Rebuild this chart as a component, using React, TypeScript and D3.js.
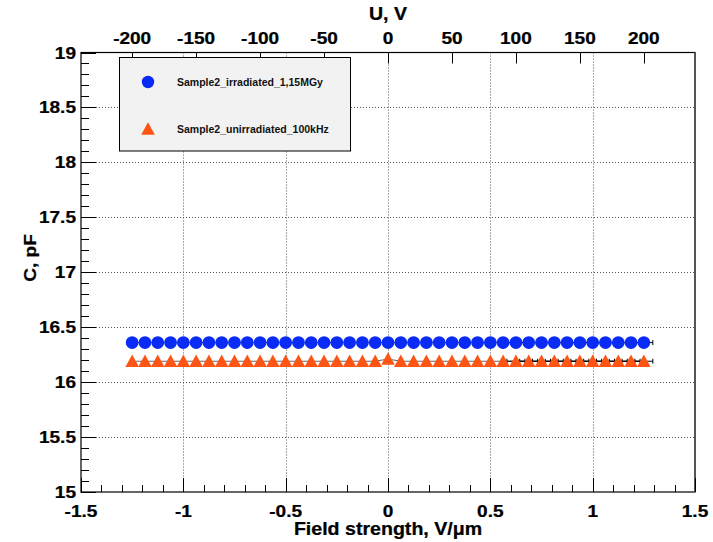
import React from "react";
import * as d3 from "d3";

// Data
const fieldE: number[] = [
  -1.25, -1.1875, -1.125, -1.0625, -1, -0.9375, -0.875, -0.8125, -0.75, -0.6875,
  -0.625, -0.5625, -0.5, -0.4375, -0.375, -0.3125, -0.25, -0.1875, -0.125, -0.0625,
  0,
  0.0625, 0.125, 0.1875, 0.25, 0.3125, 0.375, 0.4375, 0.5, 0.5625, 0.625,
  0.6875, 0.75, 0.8125, 0.875, 0.9375, 1, 1.0625, 1.125, 1.1875, 1.25,
];
const capIrradiated: number[] = [
  16.36, 16.36, 16.36, 16.36, 16.36, 16.36, 16.36, 16.36, 16.36, 16.36,
  16.36, 16.36, 16.36, 16.36, 16.36, 16.36, 16.36, 16.36, 16.36, 16.36,
  16.36,
  16.36, 16.36, 16.36, 16.36, 16.36, 16.36, 16.36, 16.36, 16.36, 16.36,
  16.36, 16.36, 16.36, 16.36, 16.36, 16.36, 16.36, 16.36, 16.36, 16.36,
];
const capUnirradiated: number[] = [
  16.19, 16.19, 16.19, 16.19, 16.19, 16.19, 16.19, 16.19, 16.19, 16.19,
  16.19, 16.19, 16.19, 16.19, 16.19, 16.19, 16.19, 16.19, 16.19, 16.19,
  16.21,
  16.19, 16.19, 16.19, 16.19, 16.19, 16.19, 16.19, 16.19, 16.19, 16.19,
  16.19, 16.19, 16.19, 16.19, 16.19, 16.19, 16.19, 16.19, 16.19, 16.19,
];
const fieldErr: number[] = [
  0, 0, 0, 0, 0, 0, 0, 0, 0, 0,
  0, 0, 0, 0, 0, 0, 0, 0, 0, 0,
  0,
  0, 0, 0, 0, 0, 0, 0, 0, 0, 0.044,
  0.044, 0.044, 0.044, 0.044, 0.044, 0.044, 0.044, 0.044, 0.044, 0.044,
];
const seriesNames: string[] = ["Sample2_irradiated_1,15MGy", "Sample2_unirradiated_100kHz"];
const seriesColors: string[] = ["#0a2af5", "#ff5514"];

const xTicks: number[] = [-1.5, -1, -0.5, 0, 0.5, 1, 1.5];
const xTickLabels: string[] = ["-1.5", "-1", "-0.5", "0", "0.5", "1", "1.5"];
const yTicks: number[] = [15, 15.5, 16, 16.5, 17, 17.5, 18, 18.5, 19];
const yTickLabels: string[] = ["15", "15.5", "16", "16.5", "17", "17.5", "18", "18.5", "19"];
const uTicks: number[] = [-200, -150, -100, -50, 0, 50, 100, 150, 200];
const uTickLabels: string[] = ["-200", "-150", "-100", "-50", "0", "50", "100", "150", "200"];
const xTitle = "Field strength, V/\u03bcm";
const yTitle = "C, pF";
const uTitle = "U, V";

const W = 713, H = 542;
const L = 81, R = 695, T = 52.5, B = 492;
const FONT = "'Liberation Sans', Arial, Helvetica, sans-serif";
const SX = 1.12;

function Label(props: { x: number; y: number; text: string; anchor?: string; size?: number; rotate?: number }) {
  const { x, y, text, anchor = "middle", size = 17, rotate = 0 } = props;
  return (
    <text
      transform={`translate(${x},${y}) rotate(${rotate}) scale(${SX},1)`}
      textAnchor={anchor}
      fontFamily={FONT}
      fontWeight="bold"
      fontSize={size}
      fill="#000"
      stroke="#000"
      strokeWidth={0.25}
    >
      {text}
    </text>
  );
}

export default function App() {
  const x = d3.scaleLinear().domain([-1.5, 1.5]).range([L, R]);
  const u = d3.scaleLinear().domain([-240, 240]).range([L, R]);
  const y = d3.scaleLinear().domain([15, 19]).range([B, T]);

  const xMinor = d3.range(-15, 16).map((i) => i / 10);
  const yMinor = d3.range(150, 191).map((i) => i / 10);

  const line = d3
    .line<number>()
    .x((_, i) => x(fieldE[i]))
    .y((d) => y(d));

  const series = [capIrradiated, capUnirradiated];
  const tri = (cx: number, cy: number, s = 6.8) =>
    `M${cx},${cy - s} L${cx + s},${cy + s * 0.85} L${cx - s},${cy + s * 0.85} Z`;

  const gridX = xTicks.filter((t) => t > -1.5 && t < 1.5);
  const gridY = yTicks.filter((t) => t > 15 && t < 19);

  return (
    <svg width={W} height={H} style={{ position: "absolute", left: 0, top: 0, background: "#fff" }}>
      <rect x={0} y={0} width={W} height={H} fill="#fff" />
      {/* grid */}
      <g stroke="#555" strokeWidth={1} strokeDasharray="1,2">
        {gridX.map((t) => (
          <line key={"gx" + t} x1={Math.round(x(t)) + 0.5} x2={Math.round(x(t)) + 0.5} y1={T} y2={B} />
        ))}
        {gridY.map((t) => (
          <line key={"gy" + t} x1={L} x2={R} y1={Math.round(y(t)) + 0.5} y2={Math.round(y(t)) + 0.5} />
        ))}
      </g>
      {/* frame */}
      <rect x={L} y={T} width={R - L} height={B - T} fill="none" stroke="#000" strokeWidth={1.2} />
      <line x1={R} x2={R} y1={T} y2={B} stroke="#555" strokeWidth={2} />
      {/* ticks */}
      <g stroke="#000" strokeWidth={1}>
        {xMinor.map((t, i) => {
          const major = i % 5 === 0;
          const px = Math.round(x(t)) + 0.5;
          return <line key={"bx" + i} x1={px} x2={px} y1={B} y2={B - (major ? 14 : 7)} />;
        })}
        {yMinor.map((t, i) => {
          const major = i % 5 === 0;
          const py = Math.round(y(t)) + 0.5;
          return <line key={"ly" + i} x1={L} x2={L + (major ? 15 : 8)} y1={py} y2={py} />;
        })}
        {uTicks.map((t) => {
          const px = Math.round(u(t)) + 0.5;
          return <line key={"tu" + t} x1={px} x2={px} y1={T} y2={T + 11} />;
        })}
      </g>
      {/* tick labels */}
      {xTicks.map((t, i) => (
        <Label key={"xl" + t} x={x(t)} y={517} text={xTickLabels[i]} />
      ))}
      {yTicks.map((t, i) => (
        <Label key={"yl" + t} x={76} y={y(t) + 6} text={yTickLabels[i]} anchor="end" />
      ))}
      {uTicks.map((t, i) => (
        <Label key={"ul" + t} x={u(t)} y={44} text={uTickLabels[i]} />
      ))}
      <Label x={(L + R) / 2} y={535} text={xTitle} size={17.5} />
      <Label x={36} y={258} text={yTitle} rotate={-90} size={17} />
      <Label x={(L + R) / 2} y={20} text={uTitle} size={17.5} />

      {/* data */}
      {series.map((vals, s) => (
        <g key={"s" + s}>
          <path d={line(vals) || ""} fill="none" stroke="#666" strokeWidth={1} />
          <g stroke="#000" strokeWidth={1}>
            {vals.map((v, i) =>
              fieldErr[i] > 0 ? (
                <g key={"e" + i}>
                  <line x1={x(fieldE[i] - fieldErr[i])} x2={x(fieldE[i] + fieldErr[i])} y1={y(v)} y2={y(v)} />
                  <line x1={x(fieldE[i] - fieldErr[i])} x2={x(fieldE[i] - fieldErr[i])} y1={y(v) - 2.5} y2={y(v) + 2.5} />
                  <line x1={x(fieldE[i] + fieldErr[i])} x2={x(fieldE[i] + fieldErr[i])} y1={y(v) - 2.5} y2={y(v) + 2.5} />
                </g>
              ) : null
            )}
          </g>
          {vals.map((v, i) =>
            s === 0 ? (
              <circle key={"m" + i} cx={x(fieldE[i])} cy={y(v)} r={6.4} fill={seriesColors[0]} />
            ) : (
              <path key={"m" + i} d={tri(x(fieldE[i]), y(v))} fill={seriesColors[1]} />
            )
          )}
        </g>
      ))}

      {/* legend */}
      <rect x={119.5} y={57.5} width={231} height={93.5} fill="#f2f2f2" stroke="#000" strokeWidth={1} />
      <circle cx={148} cy={82} r={6.2} fill={seriesColors[0]} />
      <path d={tri(148, 129)} fill={seriesColors[1]} />
      <text x={177} y={85.5} fontFamily={FONT} fontWeight="bold" fontSize={10.5} fill="#111">
        {seriesNames[0]}
      </text>
      <text x={177} y={132.5} fontFamily={FONT} fontWeight="bold" fontSize={10.5} fill="#111">
        {seriesNames[1]}
      </text>
    </svg>
  );
}
